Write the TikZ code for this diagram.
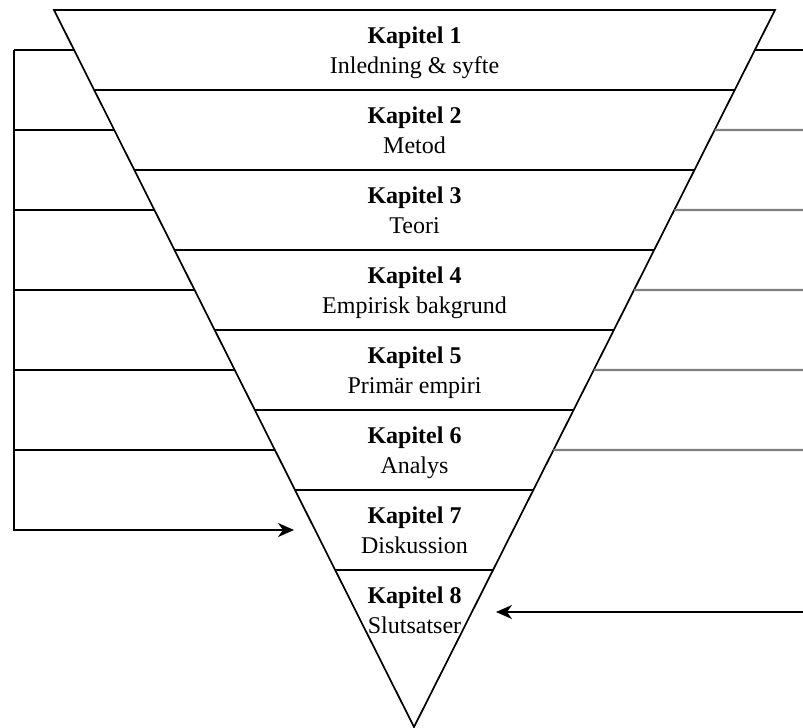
\documentclass[tikz,border=0pt]{standalone}
\usepackage{fontspec}
\setmainfont{Liberation Serif}
\usetikzlibrary{calc,arrows.meta}
\begin{document}
\begin{tikzpicture}[x=1pt,y=-1pt,
  edge/.style={line width=1.7pt,black},
  link/.style={line width=1.8pt,black},
  feed/.style={line width=2.3pt,draw={rgb,255:red,128;green,128;blue,128}},
  pointer/.style={line width=1.8pt,black,-{Stealth[length=16pt,width=14pt,inset=5pt]}},
  heading/.style={font=\fontsize{24}{28}\selectfont\bfseries,anchor=base,inner sep=0pt},
  caption/.style={font=\fontsize{24}{28}\selectfont,anchor=base,inner sep=0pt}]
\useasboundingbox (0,0) rectangle (803,728);
% funnel outline
\coordinate (A) at (54,10);
\coordinate (B) at (775,10);
\coordinate (C) at (414,727);
\draw[edge,line join=miter] (A) -- (B) -- (C) -- cycle;
% band dividers
\foreach \i in {1,...,7}{
  \pgfmathsetmacro\t{80*\i/717}
  \draw[link] ($(A)!\t!(C)$) -- ($(B)!\t!(C)$);
}
% chapter texts
\foreach \lab [count=\i] in {Inledning \& syfte,Metod,Teori,Empirisk bakgrund,Primär empiri,Analys,Diskussion,Slutsatser}{
  \pgfmathsetmacro\yb{80*(\i-1)+43}
  \node[heading] (k\i) at (414.5,\yb) {Kapitel \i};
  \node[caption] (s\i) at (414.5,\yb+30) {\lab};
}
% left bracket feeding chapter 7
\coordinate (ltop) at (14,50);
\coordinate (lbot) at (14,530);
\coordinate (lend) at (294,530);
\draw[pointer] (ltop) -- (lbot) -- (lend);
\foreach \y in {50,130,...,450}{
  \pgfmathsetmacro\t{(\y-10)/717}
  \coordinate (lp) at (14,\y);
  \draw[link] (lp) -- ($(A)!\t!(C)$);
}
% right side lines
\coordinate (r1) at (803,50);
\draw[link] ($(B)!{40/717}!(C)$) -- (r1);
\foreach \y in {130,210,...,450}{
  \pgfmathsetmacro\t{(\y-10)/717}
  \coordinate (rp) at (803,\y);
  \draw[feed] ($(B)!\t!(C)$) -- (rp);
}
% arrow into chapter 8
\coordinate (rs) at (803,612);
\coordinate (re) at (496,612);
\draw[pointer] (rs) -- (re);
\end{tikzpicture}
\end{document}
